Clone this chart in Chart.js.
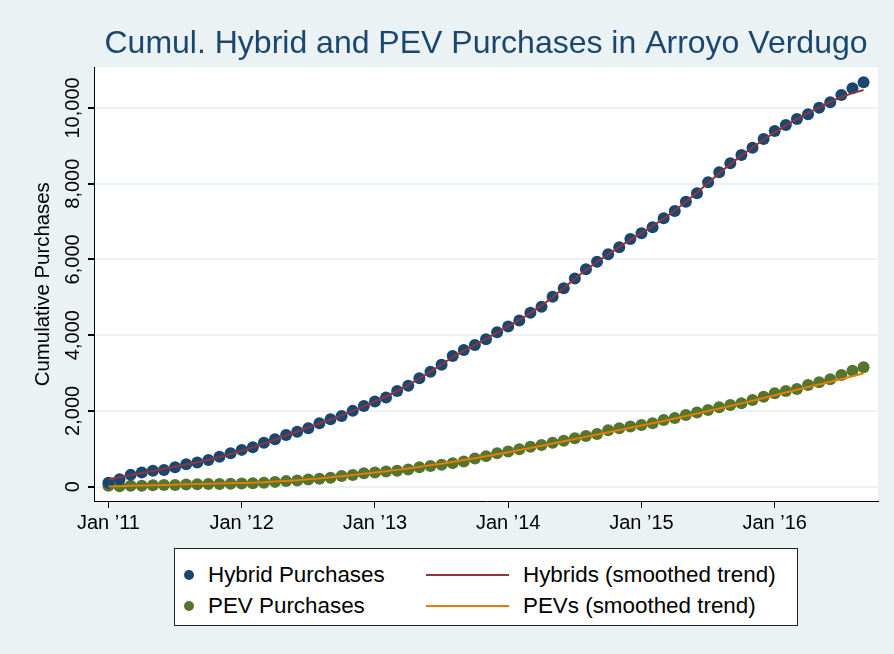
<!DOCTYPE html>
<html>
<head>
<meta charset="utf-8">
<script src="https://cdn.jsdelivr.net/npm/chart.js@4.4.1/dist/chart.umd.min.js"></script>
<style>
  html, body { margin: 0; padding: 0; background: #eaf2f3; }
  #wrap { position: relative; width: 894px; height: 654px; }
  #chart { position: absolute; left: 0; top: 0; }
  #legend {
    position: absolute; left: 174px; top: 548px; width: 624px; height: 78px;
    box-sizing: border-box; background: #fff; border: 1px solid #222;
    font-family: "Liberation Sans", Arial, sans-serif; font-size: 22.4px; color: #000;
  }
  #legend .item { position: absolute; white-space: nowrap; line-height: 24px; height: 24px; }
  #legend .dot { position: absolute; width: 10px; height: 10px; border-radius: 50%; top: 7px; }
  #legend .line { position: absolute; height: 2px; top: 11px; }
</style>
</head>
<body>
<div id="wrap">
  <canvas id="chart" width="894" height="654"></canvas>
  <div id="legend"></div>
</div>
<script>
// monthly observations, Jan 2011 - Sep 2016
const months = [
  "2011-01", "2011-02", "2011-03", "2011-04", "2011-05", "2011-06", "2011-07", "2011-08", "2011-09", "2011-10", "2011-11", "2011-12",
  "2012-01", "2012-02", "2012-03", "2012-04", "2012-05", "2012-06", "2012-07", "2012-08", "2012-09", "2012-10", "2012-11", "2012-12",
  "2013-01", "2013-02", "2013-03", "2013-04", "2013-05", "2013-06", "2013-07", "2013-08", "2013-09", "2013-10", "2013-11", "2013-12",
  "2014-01", "2014-02", "2014-03", "2014-04", "2014-05", "2014-06", "2014-07", "2014-08", "2014-09", "2014-10", "2014-11", "2014-12",
  "2015-01", "2015-02", "2015-03", "2015-04", "2015-05", "2015-06", "2015-07", "2015-08", "2015-09", "2015-10", "2015-11", "2015-12",
  "2016-01", "2016-02", "2016-03", "2016-04", "2016-05", "2016-06", "2016-07", "2016-08", "2016-09"
];

const hybridPurchases = [
  100, 195, 310, 370, 420, 440, 510, 590, 635, 705, 790, 880,
  970, 1040, 1160, 1250, 1365, 1450, 1540, 1675, 1780, 1865, 2000, 2130,
  2245, 2350, 2525, 2665, 2860, 3035, 3215, 3450, 3610, 3740, 3890, 4075,
  4225, 4385, 4590, 4750, 5015, 5235, 5495, 5740, 5940, 6135, 6320, 6540,
  6690, 6850, 7085, 7275, 7525, 7745, 8035, 8300, 8540, 8755, 8950, 9180,
  9390, 9550, 9705, 9830, 10005, 10150, 10340, 10520, 10675
];

const pevPurchases = [
  20, 10, 20, 25, 35, 40, 45, 55, 65, 70, 70, 75,
  80, 90, 105, 125, 145, 160, 190, 210, 235, 280, 305, 350,
  375, 400, 420, 450, 510, 545, 575, 620, 660, 745, 805, 880,
  925, 985, 1050, 1100, 1160, 1210, 1275, 1335, 1390, 1490, 1540, 1585,
  1630, 1675, 1760, 1810, 1890, 1955, 2025, 2095, 2155, 2200, 2290, 2375,
  2465, 2525, 2580, 2685, 2755, 2835, 2950, 3060, 3150
];

const hybridTrend = [
  195, 250, 305, 360, 415, 470, 525, 585, 645, 710, 780, 860,
  945, 1035, 1135, 1240, 1350, 1455, 1560, 1665, 1770, 1880, 2000, 2125,
  2250, 2380, 2525, 2680, 2855, 3035, 3225, 3420, 3590, 3745, 3900, 4065,
  4230, 4400, 4580, 4780, 5000, 5245, 5490, 5720, 5930, 6130, 6330, 6520,
  6700, 6880, 7075, 7290, 7520, 7765, 8020, 8275, 8515, 8740, 8955, 9160,
  9355, 9535, 9705, 9865, 10015, 10160, 10290, 10390, 10475
];

const pevTrend = [
  5, 12, 20, 28, 36, 44, 52, 60, 67, 73, 79, 86,
  94, 104, 117, 132, 150, 170, 192, 217, 244, 273, 304, 337,
  371, 406, 442, 480, 520, 562, 606, 652, 700, 750, 802, 856,
  910, 966, 1022, 1080, 1138, 1196, 1256, 1316, 1376, 1436, 1495, 1554,
  1613, 1673, 1735, 1798, 1862, 1928, 1995, 2062, 2130, 2198, 2268, 2340,
  2412, 2484, 2556, 2628, 2698, 2768, 2840, 2915, 2995
];

const xTickMonths = ["2011-01", "2012-01", "2013-01", "2014-01", "2015-01", "2016-01"];
const xTickLabels = ["Jan \u201911", "Jan \u201912", "Jan \u201913", "Jan \u201914", "Jan \u201915", "Jan \u201916"];
const yTicks = [0, 2000, 4000, 6000, 8000, 10000];

const FONT = '"Liberation Sans", Arial, Helvetica, sans-serif';
const xTickValues = xTickMonths.map(m => months.indexOf(m));
const toXY = arr => arr.map((v, i) => ({ x: i, y: v }));

// Stata-ish backdrop + rotated y tick labels
const stataLook = {
  id: 'stataLook',
  beforeDraw(chart) {
    const { ctx, chartArea: a } = chart;
    ctx.save();
    ctx.fillStyle = '#eaf2f3';
    ctx.fillRect(0, 0, chart.width, chart.height);
    ctx.fillStyle = '#ffffff';
    ctx.fillRect(a.left, a.top, a.right - a.left, a.bottom - a.top);
    ctx.restore();
  },
  afterDraw(chart) {
    const { ctx } = chart;
    const ys = chart.scales.y;
    ctx.save();
    ctx.font = '20px ' + FONT;
    ctx.fillStyle = '#000';
    ctx.textAlign = 'center';
    ctx.textBaseline = 'middle';
    ys.ticks.forEach(t => {
      ctx.save();
      ctx.translate(ys.right - 21, ys.getPixelForValue(t.value));
      ctx.rotate(-Math.PI / 2);
      ctx.fillText(t.value.toLocaleString('en-US'), 0, 0);
      ctx.restore();
    });
    ctx.restore();
  }
};

const chart = new Chart(document.getElementById('chart'), {
  type: 'scatter',
  data: {
    datasets: [
      { type: 'line', label: 'Hybrids (smoothed trend)', data: toXY(hybridTrend),
        borderColor: '#90353b', borderWidth: 2, pointRadius: 0, fill: false },
      { type: 'line', label: 'PEVs (smoothed trend)', data: toXY(pevTrend),
        borderColor: '#e37e00', borderWidth: 2, pointRadius: 0, fill: false },
      { label: 'Hybrid Purchases', data: toXY(hybridPurchases),
        backgroundColor: '#1a476f', borderWidth: 0, pointRadius: 6 },
      { label: 'PEV Purchases', data: toXY(pevPurchases),
        backgroundColor: '#55752f', borderWidth: 0, pointRadius: 6 }
    ]
  },
  options: {
    responsive: false,
    animation: false,
    devicePixelRatio: 1,
    layout: { padding: { left: 0, right: 16, top: 0, bottom: 113 } },
    plugins: {
      legend: { display: false },
      tooltip: { enabled: false },
      title: {
        display: true,
        text: 'Cumul. Hybrid and PEV Purchases in Arroyo Verdugo',
        fullSize: false,
        color: '#1a476f',
        font: { family: FONT, size: 32, weight: 'normal' },
        padding: { top: 25, bottom: 4 }
      }
    },
    scales: {
      x: {
        type: 'linear',
        min: -1.3,
        max: 69.3,
        afterBuildTicks: s => { s.ticks = xTickValues.map(v => ({ value: v })); },
        afterFit: s => { s.height = 40; },
        ticks: {
          callback: v => xTickLabels[xTickValues.indexOf(v)],
          color: '#000',
          font: { family: FONT, size: 20 },
          padding: 3,
          maxRotation: 0,
          autoSkip: false
        },
        grid: { drawOnChartArea: false, drawTicks: true, tickLength: 7, tickColor: '#000' },
        border: { display: true, color: '#000', width: 1 }
      },
      y: {
        min: -380,
        max: 11070,
        afterBuildTicks: s => { s.ticks = yTicks.map(v => ({ value: v })); },
        afterFit: s => { s.width = 94; },
        ticks: { display: false },
        grid: { color: '#eaf2f3', lineWidth: 2, drawTicks: true, tickLength: 6, tickColor: '#000' },
        border: { display: true, color: '#000', width: 1 },
        title: {
          display: true,
          text: 'Cumulative Purchases',
          color: '#000',
          font: { family: FONT, size: 20.4 },
          padding: { top: 31, bottom: 0 }
        }
      }
    }
  },
  plugins: [stataLook]
});

// legend: 2 x 2 grid like the Stata key
const legendSlots = [
  { ds: 2, left: 9, top: 14 },
  { ds: 0, left: 251, top: 14 },
  { ds: 3, left: 9, top: 45 },
  { ds: 1, left: 251, top: 45 }
];
const legendBox = document.getElementById('legend');
legendSlots.forEach(slot => {
  const ds = chart.data.datasets[slot.ds];
  const item = document.createElement('div');
  item.className = 'item';
  item.style.left = slot.left + 'px';
  item.style.top = slot.top + 'px';
  const mark = document.createElement('span');
  const text = document.createElement('span');
  text.textContent = ds.label;
  text.style.position = 'absolute';
  if (ds.type === 'line') {
    mark.className = 'line';
    mark.style.left = '0px';
    mark.style.width = '83px';
    mark.style.background = ds.borderColor;
    text.style.left = '97px';
  } else {
    mark.className = 'dot';
    mark.style.left = '0px';
    mark.style.background = ds.backgroundColor;
    text.style.left = '24px';
  }
  item.appendChild(mark);
  item.appendChild(text);
  legendBox.appendChild(item);
});
</script>
</body>
</html>
